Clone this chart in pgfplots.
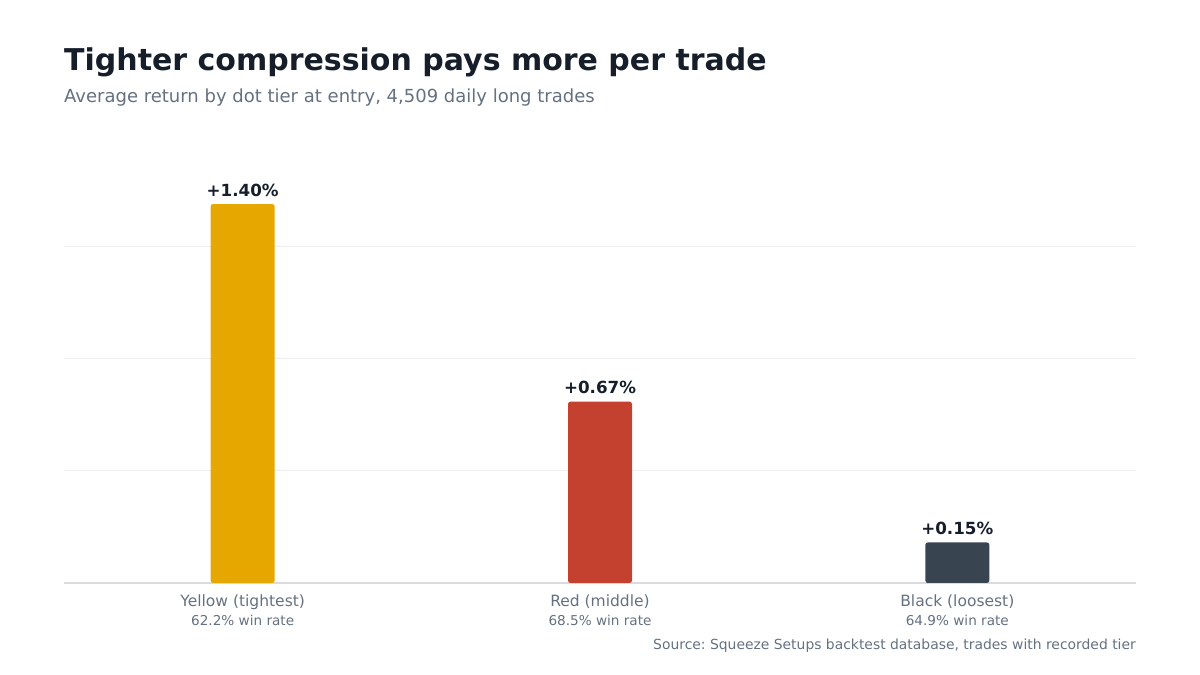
\documentclass[border=0pt]{standalone}
\usepackage{pgfplots}
\pgfplotsset{compat=1.18}
\usepackage{fontspec}
\setmainfont{DejaVu Sans}
\frenchspacing
\definecolor{cyellow}{HTML}{E6A800}
\definecolor{cred}{HTML}{C4402F}
\definecolor{cdark}{HTML}{394451}
\definecolor{ctitle}{HTML}{161E2A}
\definecolor{csub}{HTML}{657180}
\definecolor{cgrid}{HTML}{EEEEEE}
\definecolor{cbase}{HTML}{D8DCE1}
\begin{document}
\begin{tikzpicture}
\path[use as bounding box] (0,0) rectangle (1200bp,675bp);
\node[anchor=base west, inner sep=0, text=ctitle, font=\fontsize{30bp}{36bp}\selectfont\bfseries] at (64bp,604bp) {Tighter compression pays more per trade};
\node[anchor=base west, inner sep=0, text=csub, font=\fontsize{18bp}{22bp}\selectfont] at (64bp,572bp) {Average return by dot tier at entry, 4,509 daily long trades};
\node[anchor=base east, inner sep=0, text=csub, font=\fontsize{13.9bp}{16bp}\selectfont] at (1136bp,26bp) {Source: Squeeze Setups backtest database, trades with recorded tier};
\begin{axis}[
  at={(64bp,92bp)}, anchor=south west,
  width=1072bp, height=448bp, scale only axis,
  xmin=-0.5, xmax=2.5, ymin=0, ymax=1.655,
  clip=false,
  axis line style={draw=none},
  tick style={draw=none},
  major tick length=0pt,
  xtick={0,1,2},
  xticklabels={Yellow (tightest), Red (middle), Black (loosest)},
  xticklabel style={anchor=base, yshift=-24bp, inner sep=0, text=csub, font=\fontsize{15.5bp}{18bp}\selectfont},
  ytick={0.41375,0.8275,1.24125},
  yticklabels={},
  ymajorgrids,
  grid style={draw=cgrid, line width=1bp},
  extra y ticks={0},
  extra y tick labels={},
  extra y tick style={grid style={draw=cbase, line width=1.5bp}},
  ybar, bar width=64bp,
  nodes near coords,
  point meta=explicit symbolic,
  every node near coord/.append style={anchor=base, yshift=8bp, inner sep=0, text=ctitle, font=\fontsize{16.7bp}{20bp}\selectfont\bfseries},
]
\addplot[bar shift=0pt, fill=cyellow, draw=none, rounded corners=2.5bp] coordinates {(0,1.40) [+1.40\%]};
\addplot[bar shift=0pt, fill=cred, draw=none, rounded corners=2.5bp] coordinates {(1,0.67) [+0.67\%]};
\addplot[bar shift=0pt, fill=cdark, draw=none, rounded corners=2.5bp] coordinates {(2,0.15) [+0.15\%]};
\node[anchor=base, inner sep=0, text=csub, font=\fontsize{13.6bp}{16bp}\selectfont, yshift=-43bp] at (axis cs:0,0) {62.2\% win rate};
\node[anchor=base, inner sep=0, text=csub, font=\fontsize{13.6bp}{16bp}\selectfont, yshift=-43bp] at (axis cs:1,0) {68.5\% win rate};
\node[anchor=base, inner sep=0, text=csub, font=\fontsize{13.6bp}{16bp}\selectfont, yshift=-43bp] at (axis cs:2,0) {64.9\% win rate};
\end{axis}
\end{tikzpicture}
\end{document}
